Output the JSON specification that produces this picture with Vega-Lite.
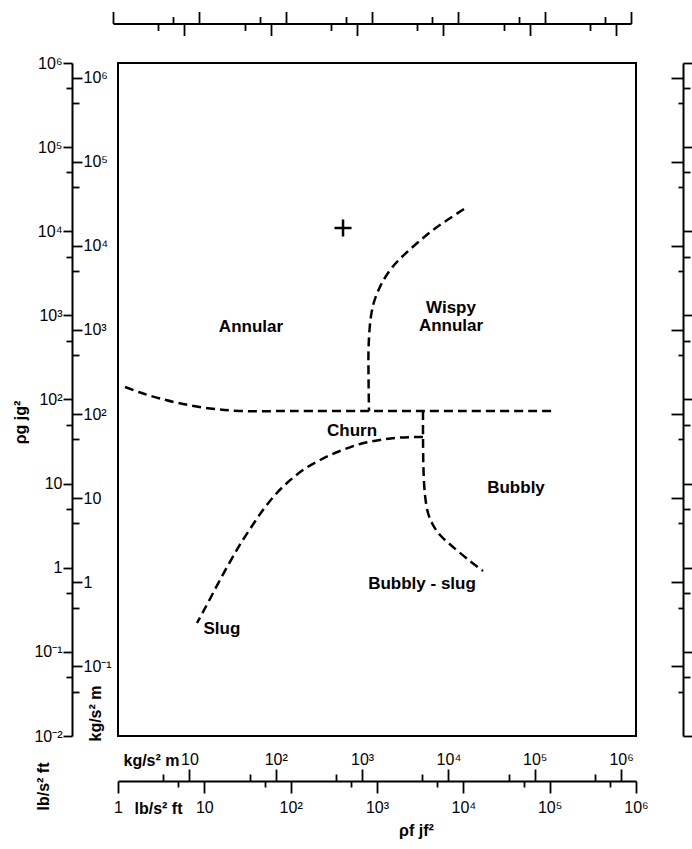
{
  "$schema": "https://vega.github.io/schema/vega-lite/v6.json",
  "width": 518,
  "height": 673,
  "autosize": {"type": "none"},
  "padding": {"left": 118, "top": 63, "right": 56, "bottom": 113},
  "background": "white",
  "config": {
    "view": {"stroke": "black", "strokeWidth": 2},
    "axis": {
      "grid": false,
      "domainColor": "black",
      "domainWidth": 2,
      "tickColor": "black",
      "tickWidth": 1.8,
      "labelColor": "black",
      "labelFont": "Liberation Sans",
      "labelFontSize": 16,
      "titleColor": "black",
      "titleFont": "Liberation Sans",
      "titleFontSize": 16,
      "titleFontWeight": "bold",
      "labelOverlap": false,
      "labelFlush": false
    }
  },
  "data": {
    "values": [
      {"kind": "line", "series": "A", "i": 0, "x": 10180, "y": 18390},
      {"kind": "line", "series": "A", "i": 1, "x": 6646, "y": 13800},
      {"kind": "line", "series": "A", "i": 2, "x": 4455, "y": 10350},
      {"kind": "line", "series": "A", "i": 3, "x": 3066, "y": 7554},
      {"kind": "line", "series": "A", "i": 4, "x": 2168, "y": 5513},
      {"kind": "line", "series": "A", "i": 5, "x": 1617, "y": 4081},
      {"kind": "line", "series": "A", "i": 6, "x": 1272, "y": 2939},
      {"kind": "line", "series": "A", "i": 7, "x": 1055, "y": 2058},
      {"kind": "line", "series": "A", "i": 8, "x": 923.3, "y": 1442},
      {"kind": "line", "series": "A", "i": 9, "x": 852.3, "y": 983},
      {"kind": "line", "series": "A", "i": 10, "x": 819.1, "y": 670.2},
      {"kind": "line", "series": "A", "i": 11, "x": 797.5, "y": 387.6},
      {"kind": "line", "series": "A", "i": 12, "x": 797.5, "y": 195.6},
      {"kind": "line", "series": "A", "i": 13, "x": 808.2, "y": 73},
      {"kind": "line", "series": "B", "i": 0, "x": 1.205, "y": 140.8},
      {"kind": "line", "series": "B", "i": 1, "x": 1.798, "y": 121.1},
      {"kind": "line", "series": "B", "i": 2, "x": 3.066, "y": 102.8},
      {"kind": "line", "series": "B", "i": 3, "x": 5.661, "y": 88.4},
      {"kind": "line", "series": "B", "i": 4, "x": 11.63, "y": 78.2},
      {"kind": "line", "series": "B", "i": 5, "x": 25.9, "y": 73},
      {"kind": "line", "series": "B", "i": 6, "x": 100, "y": 73},
      {"kind": "line", "series": "B", "i": 7, "x": 1000, "y": 73},
      {"kind": "line", "series": "B", "i": 8, "x": 10000, "y": 73},
      {"kind": "line", "series": "B", "i": 9, "x": 109400, "y": 73},
      {"kind": "line", "series": "C", "i": 0, "x": 3412, "y": 73},
      {"kind": "line", "series": "C", "i": 1, "x": 3412, "y": 34.86},
      {"kind": "line", "series": "C", "i": 2, "x": 3456, "y": 14.52},
      {"kind": "line", "series": "C", "i": 3, "x": 3598, "y": 7.32},
      {"kind": "line", "series": "C", "i": 4, "x": 3898, "y": 4.475},
      {"kind": "line", "series": "C", "i": 5, "x": 4455, "y": 3.223},
      {"kind": "line", "series": "C", "i": 6, "x": 5370, "y": 2.451},
      {"kind": "line", "series": "C", "i": 7, "x": 7595, "y": 1.765},
      {"kind": "line", "series": "C", "i": 8, "x": 11950, "y": 1.203},
      {"kind": "line", "series": "C", "i": 9, "x": 16900, "y": 0.915},
      {"kind": "line", "series": "D", "i": 0, "x": 3412, "y": 35.8},
      {"kind": "line", "series": "D", "i": 1, "x": 1848, "y": 35.35},
      {"kind": "line", "series": "D", "i": 2, "x": 1083, "y": 33.0},
      {"kind": "line", "series": "D", "i": 3, "x": 635.8, "y": 29.58},
      {"kind": "line", "series": "D", "i": 4, "x": 372.8, "y": 24.42},
      {"kind": "line", "series": "D", "i": 5, "x": 218.8, "y": 19.09},
      {"kind": "line", "series": "D", "i": 6, "x": 138.9, "y": 14.52},
      {"kind": "line", "series": "D", "i": 7, "x": 93.2, "y": 10.45},
      {"kind": "line", "series": "D", "i": 8, "x": 65.86, "y": 7.32},
      {"kind": "line", "series": "D", "i": 9, "x": 47.8, "y": 4.85},
      {"kind": "line", "series": "D", "i": 10, "x": 35.66, "y": 3.136},
      {"kind": "line", "series": "D", "i": 11, "x": 26.6, "y": 1.969},
      {"kind": "line", "series": "D", "i": 12, "x": 20.37, "y": 1.236},
      {"kind": "line", "series": "D", "i": 13, "x": 15.6, "y": 0.7555},
      {"kind": "line", "series": "D", "i": 14, "x": 11.95, "y": 0.4491},
      {"kind": "line", "series": "D", "i": 15, "x": 9.65, "y": 0.2979},
      {"kind": "line", "series": "D", "i": 16, "x": 8.224, "y": 0.2203},
      {"kind": "label", "label": "Annular", "x": 34.7, "y": 728},
      {"kind": "label", "label": "Wispy", "x": 7194, "y": 1224},
      {"kind": "label", "label": "Annular", "x": 7194, "y": 748},
      {"kind": "label", "label": "Churn", "x": 514, "y": 42.2},
      {"kind": "label", "label": "Bubbly", "x": 40740, "y": 8.87},
      {"kind": "label", "label": "Bubbly - slug", "x": 3321, "y": 0.641},
      {"kind": "label", "label": "Slug", "x": 16.0, "y": 0.187},
      {"kind": "marker", "x": 404, "y": 10940}
    ]
  },
  "resolve": {
    "scale": {"x": "independent", "y": "independent"},
    "axis": {"x": "independent", "y": "independent"}
  },
  "layer": [
    {
      "transform": [{"filter": "datum.kind == 'line'"}],
      "mark": {"type": "line", "interpolate": "catmull-rom", "color": "black", "strokeWidth": 2.5, "strokeDash": [9, 5]},
      "encoding": {
        "x": {
          "field": "x", "type": "quantitative",
          "scale": {"type": "log", "domain": [1, 1000000], "nice": false},
          "axis": {
            "orient": "bottom", "offset": 45,
            "values": [1, 5, 10, 50, 100, 500, 1000, 5000, 10000, 50000, 100000, 500000, 1000000],
            "tickSize": {"condition": {"test": "abs(log(datum.value)/LN10 - round(log(datum.value)/LN10)) < 0.001", "value": 12}, "value": 6},
            "labelExpr": "abs(log(datum.value)/LN10 - round(log(datum.value)/LN10)) > 0.001 ? '' : round(log(datum.value)/LN10) == 0 ? '1' : round(log(datum.value)/LN10) == 1 ? '10' : '10' + (datum.value < 1 ? '⁻' : '') + ['⁰','¹','²','³','⁴','⁵','⁶','⁷','⁸','⁹'][abs(round(log(datum.value)/LN10))]",
            "labelPadding": 6,
            "title": "ρf jf²", "titleX": 298, "titleY": 49, "titleAngle": 0,
            "titleAlign": "center", "titleBaseline": "middle"
          }
        },
        "y": {
          "field": "y", "type": "quantitative",
          "scale": {"type": "log", "domain": [0.01, 1000000], "nice": false},
          "axis": {
            "orient": "left", "offset": 46,
            "values": [0.01, 0.05, 0.1, 0.5, 1, 5, 10, 50, 100, 500, 1000, 5000, 10000, 50000, 100000, 500000, 1000000],
            "tickSize": {"condition": {"test": "abs(log(datum.value)/LN10 - round(log(datum.value)/LN10)) < 0.001", "value": 9}, "value": 6},
            "labelExpr": "abs(log(datum.value)/LN10 - round(log(datum.value)/LN10)) > 0.001 ? '' : round(log(datum.value)/LN10) == 0 ? '1' : round(log(datum.value)/LN10) == 1 ? '10' : '10' + (datum.value < 1 ? '⁻' : '') + ['⁰','¹','²','³','⁴','⁵','⁶','⁷','⁸','⁹'][abs(round(log(datum.value)/LN10))]",
            "labelPadding": 1,
            "title": "ρg jg²", "titleX": -52, "titleY": 359, "titleAngle": 270,
            "titleAlign": "center", "titleBaseline": "middle"
          }
        },
        "detail": {"field": "series"},
        "order": {"field": "i", "type": "quantitative"}
      }
    },
    {
      "transform": [{"filter": "datum.kind == 'label'"}],
      "mark": {"type": "text", "font": "Liberation Sans", "fontSize": 17, "fontWeight": "bold", "align": "center", "baseline": "middle", "color": "black"},
      "encoding": {
        "x": {"field": "x", "type": "quantitative", "scale": {"type": "log", "domain": [1, 1000000], "nice": false}, "axis": null},
        "y": {"field": "y", "type": "quantitative", "scale": {"type": "log", "domain": [0.01, 1000000], "nice": false}, "axis": null},
        "text": {"field": "label"}
      }
    },
    {
      "transform": [{"filter": "datum.kind == 'marker'"}],
      "mark": {"type": "point", "shape": "M-1,0L1,0M0,-1L0,1", "size": 289, "filled": false, "stroke": "black", "strokeWidth": 2.5, "opacity": 1},
      "encoding": {
        "x": {"field": "x", "type": "quantitative", "scale": {"type": "log", "domain": [1, 1000000], "nice": false}, "axis": null},
        "y": {"field": "y", "type": "quantitative", "scale": {"type": "log", "domain": [0.01, 1000000], "nice": false}, "axis": null}
      }
    },
    {
      "transform": [{"filter": "datum.kind == 'marker'"}],
      "mark": {"type": "point", "opacity": 0},
      "encoding": {
        "x": {
          "field": "x", "type": "quantitative",
          "scale": {"type": "log", "domain": [1.488, 1488000], "nice": false},
          "axis": {
            "orient": "top", "offset": -718, "domain": false,
            "values": [5, 10, 50, 100, 500, 1000, 5000, 10000, 50000, 100000, 500000, 1000000],
            "tickSize": {"condition": {"test": "abs(log(datum.value)/LN10 - round(log(datum.value)/LN10)) < 0.001", "value": 12}, "value": 7},
            "labelExpr": "abs(log(datum.value)/LN10 - round(log(datum.value)/LN10)) > 0.001 ? '' : round(log(datum.value)/LN10) == 0 ? '1' : round(log(datum.value)/LN10) == 1 ? '10' : '10' + (datum.value < 1 ? '⁻' : '') + ['⁰','¹','²','³','⁴','⁵','⁶','⁷','⁸','⁹'][abs(round(log(datum.value)/LN10))]",
            "labelPadding": 2,
            "title": "kg/s² m", "titleX": 33, "titleY": -21, "titleAngle": 0,
            "titleAlign": "center", "titleBaseline": "middle"
          }
        },
        "y": {
          "field": "y", "type": "quantitative",
          "scale": {"type": "log", "domain": [0.01488, 1488000], "nice": false},
          "axis": {
            "orient": "right", "offset": -564, "domain": false,
            "values": [0.05, 0.1, 0.5, 1, 5, 10, 50, 100, 500, 1000, 5000, 10000, 50000, 100000, 500000, 1000000],
            "tickSize": {"condition": {"test": "abs(log(datum.value)/LN10 - round(log(datum.value)/LN10)) < 0.001", "value": 10}, "value": 7},
            "labelExpr": "abs(log(datum.value)/LN10 - round(log(datum.value)/LN10)) > 0.001 ? '' : round(log(datum.value)/LN10) == 0 ? '1' : round(log(datum.value)/LN10) == 1 ? '10' : '10' + (datum.value < 1 ? '⁻' : '') + ['⁰','¹','²','³','⁴','⁵','⁶','⁷','⁸','⁹'][abs(round(log(datum.value)/LN10))]",
            "labelPadding": 1,
            "title": "kg/s² m", "titleX": 23, "titleY": 650, "titleAngle": 270,
            "titleAlign": "center", "titleBaseline": "middle"
          }
        }
      }
    },
    {
      "transform": [{"filter": "datum.kind == 'marker'"}],
      "mark": {"type": "point", "opacity": 0},
      "encoding": {
        "x": {
          "field": "x", "type": "quantitative",
          "scale": {"type": "log", "domain": [1, 1000000], "nice": false, "range": [-5, 513]},
          "axis": {
            "orient": "top", "offset": 39.5, "labels": false,
            "values": [1, 5, 10, 50, 100, 500, 1000, 5000, 10000, 50000, 100000, 500000, 1000000],
            "tickSize": {"condition": {"test": "abs(log(datum.value)/LN10 - round(log(datum.value)/LN10)) < 0.001", "value": 12}, "value": 7},
            "title": "lb/s² ft", "titleX": -75, "titleY": 762.5, "titleAngle": 270,
            "titleAlign": "center", "titleBaseline": "middle"
          }
        },
        "y": {
          "field": "y", "type": "quantitative",
          "scale": {"type": "log", "domain": [0.01, 1000000], "nice": false},
          "axis": {
            "orient": "right", "offset": 47, "labels": false, "domain": false,
            "values": [0.01, 0.05, 0.1, 0.5, 1, 5, 10, 50, 100, 500, 1000, 5000, 10000, 50000, 100000, 500000, 1000000],
            "tickSize": {"condition": {"test": "abs(log(datum.value)/LN10 - round(log(datum.value)/LN10)) < 0.001", "value": 9}, "value": 7},
            "title": null
          }
        }
      }
    },
    {
      "transform": [{"filter": "datum.kind == 'marker'"}],
      "mark": {"type": "point", "opacity": 0},
      "encoding": {
        "x": {
          "field": "x", "type": "quantitative",
          "scale": {"type": "log", "domain": [1.488, 1488000], "nice": false, "range": [-5, 513]},
          "axis": {
            "orient": "bottom", "offset": -712.5, "labels": false, "domain": false,
            "values": [5, 10, 50, 100, 500, 1000, 5000, 10000, 50000, 100000, 500000, 1000000],
            "tickSize": {"condition": {"test": "abs(log(datum.value)/LN10 - round(log(datum.value)/LN10)) < 0.001", "value": 12}, "value": 7},
            "title": "lb/s² ft", "titleX": 40, "titleY": 784.5, "titleAngle": 0,
            "titleAlign": "center", "titleBaseline": "middle"
          }
        },
        "y": {
          "field": "y", "type": "quantitative",
          "scale": {"type": "log", "domain": [0.01488, 1488000], "nice": false},
          "axis": {
            "orient": "left", "offset": -565, "labels": false, "domain": true,
            "values": [0.05, 0.1, 0.5, 1, 5, 10, 50, 100, 500, 1000, 5000, 10000, 50000, 100000, 500000, 1000000],
            "tickSize": {"condition": {"test": "abs(log(datum.value)/LN10 - round(log(datum.value)/LN10)) < 0.001", "value": 12}, "value": 5},
            "title": null
          }
        }
      }
    }
  ]
}
